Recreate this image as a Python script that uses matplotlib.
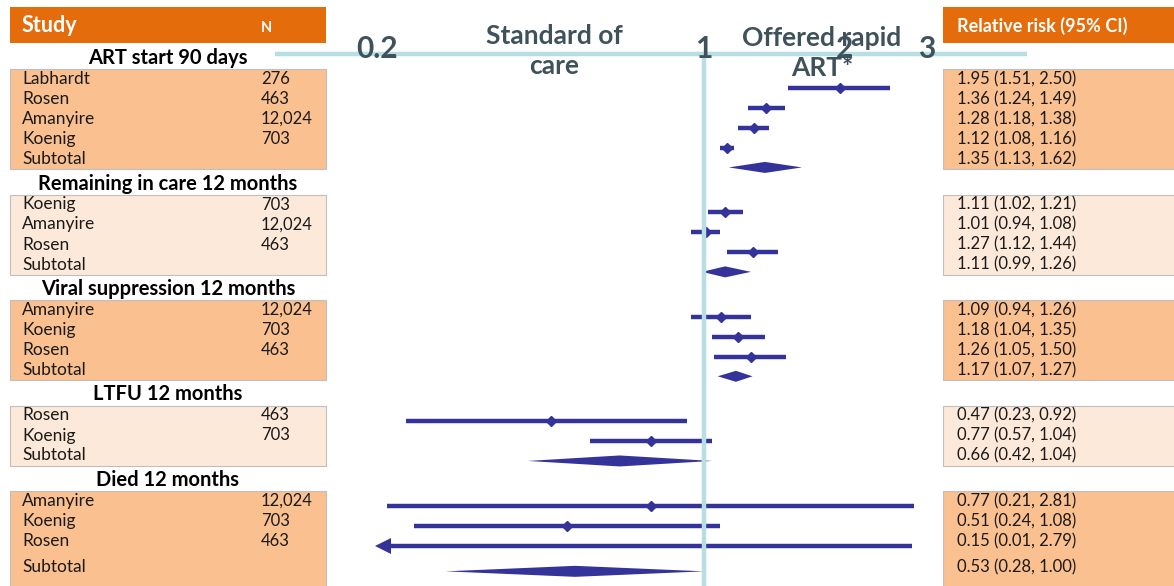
import numpy as np
import matplotlib.pyplot as plt
from matplotlib.patches import Rectangle, Polygon

plt.rcParams['font.family'] = ['Lato', 'DejaVu Sans']

groups = ['ART start 90 days', 'Remaining in care 12 months',
          'Viral suppression 12 months', 'LTFU 12 months', 'Died 12 months']
studies = [['Labhardt', 'Rosen', 'Amanyire', 'Koenig'],
           ['Koenig', 'Amanyire', 'Rosen'],
           ['Amanyire', 'Koenig', 'Rosen'],
           ['Rosen', 'Koenig'],
           ['Amanyire', 'Koenig', 'Rosen']]
n_vals = [['276', '463', '12,024', '703'],
          ['703', '12,024', '463'],
          ['12,024', '703', '463'],
          ['463', '703'],
          ['12,024', '703', '463']]
# last value of each group is the subtotal
rr = [[1.95, 1.36, 1.28, 1.12, 1.35],
      [1.11, 1.01, 1.27, 1.11],
      [1.09, 1.18, 1.26, 1.17],
      [0.47, 0.77, 0.66],
      [0.77, 0.51, 0.15, 0.53]]
lo = [[1.51, 1.24, 1.18, 1.08, 1.13],
      [1.02, 0.94, 1.12, 0.99],
      [0.94, 1.04, 1.05, 1.07],
      [0.23, 0.57, 0.42],
      [0.21, 0.24, 0.01, 0.28]]
hi = [[2.50, 1.49, 1.38, 1.16, 1.62],
      [1.21, 1.08, 1.44, 1.26],
      [1.26, 1.35, 1.50, 1.27],
      [0.92, 1.04, 1.04],
      [2.81, 1.08, 2.79, 1.00]]
tick_vals = [0.2, 1, 2, 3]
tick_labels = ['0.2', '1', '2', '3']

W, H = 1174, 586
orange = '#E46C0A'
peach_dark = '#FAC090'
peach_light = '#FDE9D9'
navy = '#333399'
axis_blue = '#B7DEE3'
slate = '#3F525C'

fig = plt.figure(figsize=(W / 100, H / 100), dpi=100)
bg = fig.add_axes([0, 0, 1, 1])
bg.set_xlim(0, W)
bg.set_ylim(H, 0)
bg.axis('off')

# forest axes: log scale, ~203 px per ln unit, 1 at x=704 px
px_per = 203.0
x_left, x_right = 275, 1027
ax = fig.add_axes([x_left / W, 0, (x_right - x_left) / W, 1])
ax.set_xscale('log')
ax.set_xlim(np.exp((x_left - 704) / px_per), np.exp((x_right - 704) / px_per))
ax.set_ylim(H, 0)
ax.axis('off')
ax.patch.set_alpha(0)

# headers
bg.add_patch(Rectangle((10, 7), 316, 36, color=orange, lw=0))
bg.add_patch(Rectangle((943, 7), 240, 36, color=orange, lw=0))
bg.text(22, 26, 'Study', color='white', fontsize=15.5, fontweight='bold', va='center')
bg.text(261, 28, 'N', color='white', fontsize=10.5, fontweight='bold', va='center')
bg.text(957, 26, 'Relative risk (95% CI)', color='white', fontsize=13,
        fontweight='bold', va='center')

# axis line and ticks
ax.axhline(54, color=axis_blue, lw=3.2, zorder=1)
ax.plot([1, 1], [54, H], color=axis_blue, lw=3.2, zorder=6)
for v, t in zip(tick_vals, tick_labels):
    ax.text(v, 49, t, color=slate, fontsize=21.5, fontweight='bold',
            ha='center', va='center', zorder=7)
bg.text(554, 51, 'Standard of\ncare', color=slate, fontsize=19, fontweight='bold',
        ha='center', va='center', linespacing=1.25)
bg.text(822, 53, 'Offered rapid\nART*', color=slate, fontsize=19, fontweight='bold',
        ha='center', va='center', linespacing=1.3)

x_clip = 0.2
head_y = 57
for g in range(len(groups)):
    fill = peach_dark if g % 2 == 0 else peach_light
    names = studies[g] + ['Subtotal']
    ns = n_vals[g] + ['']
    rows = [head_y + 21 + 20 * i for i in range(len(names))]
    if g == len(groups) - 1:
        rows[-1] += 6
    top = rows[0] - 9
    bot = rows[-1] + 11 if g < len(groups) - 1 else H + 5
    bg.text(168, head_y + 1, groups[g], fontsize=14.5, fontweight='bold',
            ha='center', va='center', color='black')
    for x0, w in [(10, 316), (943, 240)]:
        bg.add_patch(Rectangle((x0, top), w, bot - top, facecolor=fill,
                               edgecolor='#BFBFBF', lw=0.8))
    for i, y in enumerate(rows):
        bg.text(22, y + 1, names[i], fontsize=12.5, va='center', color='#1a1a1a')
        bg.text(261, y + 1, ns[i], fontsize=12, va='center', color='#1a1a1a')
        bg.text(957, y + 1, f'{rr[g][i]:.2f} ({lo[g][i]:.2f}, {hi[g][i]:.2f})',
                fontsize=12, va='center', color='#1a1a1a')
        my = 0.99 * y + 11
        if i < len(names) - 1:
            l = max(lo[g][i], x_clip)
            ax.plot([l * np.exp(8 / px_per) if lo[g][i] < x_clip else l, hi[g][i]],
                    [my, my], color=navy, lw=3.2, solid_capstyle='butt', zorder=4)
            if rr[g][i] >= x_clip:
                ax.plot(rr[g][i], my, marker='D', color=navy, ms=5.5, zorder=5)
            if lo[g][i] < x_clip:
                ax.plot(x_clip * np.exp(6 / px_per), my, marker='<', color=navy,
                        ms=11, zorder=5, markeredgewidth=0)
        else:
            ax.add_patch(Polygon([[lo[g][i], my], [rr[g][i], my - 5.5],
                                  [hi[g][i], my], [rr[g][i], my + 5.5]],
                                 closed=True, color=navy, lw=0, zorder=4))
    head_y = rows[-1] + 24.5

fig.savefig('out.png', dpi=100)
